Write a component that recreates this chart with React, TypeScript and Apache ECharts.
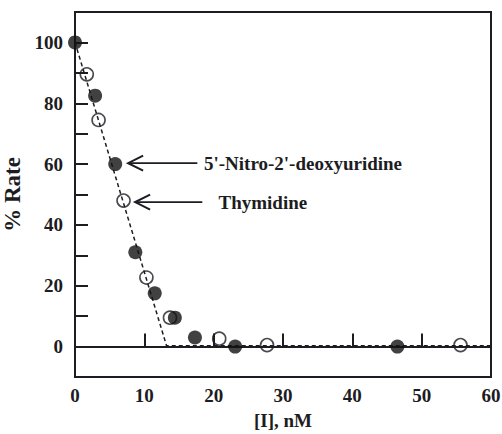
import React, { useEffect, useRef } from "react";
import * as echarts from "echarts";

// 5'-Nitro-2'-deoxyuridine (filled circles)
const nitroX = [0, 2.9, 5.8, 8.7, 11.5, 14.4, 17.3, 23.1, 46.5];
const nitroY = [100, 82.5, 60, 31, 17.5, 9.5, 3, 0, 0];
// Thymidine (open circles)
const thyX = [1.7, 3.4, 7.0, 10.3, 13.7, 20.8, 27.7, 55.6];
const thyY = [89.5, 74.5, 48, 22.7, 9.5, 2.6, 0.5, 0.5];
// dashed fit line
const fitX = [0, 13.2, 60];
const fitY = [100, 0.3, 0.3];
// annotations: [tipX, endX, y, textX]
const nitroArrow = [7.66, 17.64, 60.3, 18.6];
const thyArrow = [8.67, 18.36, 47.5, 20.7];
const nitroLabel = "5'-Nitro-2'-deoxyuridine";
const thyLabel = "Thymidine";

const FONT = "'Liberation Serif', 'Times New Roman', serif";
const INK = "#1c1c22";

export default function App() {
  const ref = useRef<HTMLDivElement>(null);
  useEffect(() => {
    if (!ref.current) return;
    const chart = echarts.init(ref.current, null, { renderer: "svg" });
    const zip = (xs: number[], ys: number[]) => xs.map((x, i) => [x, ys[i]]);
    chart.setOption({
      animation: false,
      backgroundColor: "#ffffff",
      grid: {
        left: 75,
        right: 11,
        top: 12,
        bottom: 57,
        outerBoundsMode: "none",
        containLabel: false,
        show: true,
        borderColor: INK,
        borderWidth: 2,
        backgroundColor: "transparent",
      },
      xAxis: {
        type: "value",
        min: 0,
        max: 60,
        interval: 10,
        name: "[I], nM",
        nameLocation: "middle",
        nameGap: 34,
        nameTextStyle: { fontFamily: FONT, fontWeight: "bold", fontSize: 19, color: INK },
        axisLine: { show: true, lineStyle: { color: INK, width: 2 } },
        axisTick: { show: true, inside: true, length: 13, lineStyle: { color: INK, width: 2 } },
        axisLabel: { fontFamily: FONT, fontWeight: "bold", fontSize: 19, color: INK, margin: 9 },
        splitLine: { show: false },
      },
      yAxis: {
        type: "value",
        min: -10,
        max: 110,
        interval: 10,
        name: "% Rate",
        nameLocation: "middle",
        nameGap: 45,
        nameTextStyle: { fontFamily: FONT, fontWeight: "bold", fontSize: 23, color: INK },
        axisLine: { show: true, lineStyle: { color: INK, width: 2 } },
        axisTick: { show: true, inside: true, length: 13, lineStyle: { color: INK, width: 2 } },
        axisLabel: {
          fontFamily: FONT,
          fontWeight: "bold",
          fontSize: 19,
          color: INK,
          margin: 12,
          formatter: (v: number) => (v >= 0 && v <= 100 && v % 20 === 0 ? String(v) : ""),
        },
        splitLine: { show: false },
      },
      series: [
        {
          type: "line",
          data: zip(fitX, fitY),
          symbol: "none",
          lineStyle: { color: INK, width: 1.5, type: [4, 3] },
          z: 1,
        },
        {
          type: "scatter",
          data: zip(thyX, thyY),
          symbol: "circle",
          symbolSize: 13,
          itemStyle: { color: "rgba(255,255,255,0)", borderColor: INK, borderWidth: 1.6 },
          z: 3,
        },
        {
          type: "scatter",
          data: zip(nitroX, nitroY),
          symbol: "circle",
          symbolSize: 14,
          itemStyle: { color: "#111111" },
          z: 4,
        },
      ],
    });

    const px = (x: number, y: number) => chart.convertToPixel({ gridIndex: 0 }, [x, y]) as number[];
    const arrow = (a: number[], label: string) => {
      const tip = px(a[0], a[2]);
      const end = px(a[1], a[2]);
      const txt = px(a[3], a[2]);
      return [
        {
          type: "line",
          shape: { x1: tip[0], y1: tip[1], x2: end[0], y2: end[1] },
          style: { stroke: INK, lineWidth: 1.8 },
        },
        {
          type: "polyline",
          shape: {
            points: [
              [tip[0] + 15, tip[1] - 7.5],
              [tip[0], tip[1]],
              [tip[0] + 15, tip[1] + 7.5],
            ],
          },
          style: { stroke: INK, lineWidth: 2, fill: "none" },
        },
        {
          type: "text",
          x: txt[0],
          y: txt[1],
          style: {
            text: label,
            fontFamily: FONT,
            fontWeight: "bold",
            fontSize: 19,
            fill: INK,
            textAlign: "left",
            textVerticalAlign: "middle",
          },
        },
      ];
    };
    chart.setOption({
      graphic: [...arrow(nitroArrow, nitroLabel), ...arrow(thyArrow, thyLabel)],
    });
    return () => chart.dispose();
  }, []);
  return (
    <div
      ref={ref}
      style={{ position: "fixed", left: 0, top: 0, width: 502, height: 434 }}
    />
  );
}
